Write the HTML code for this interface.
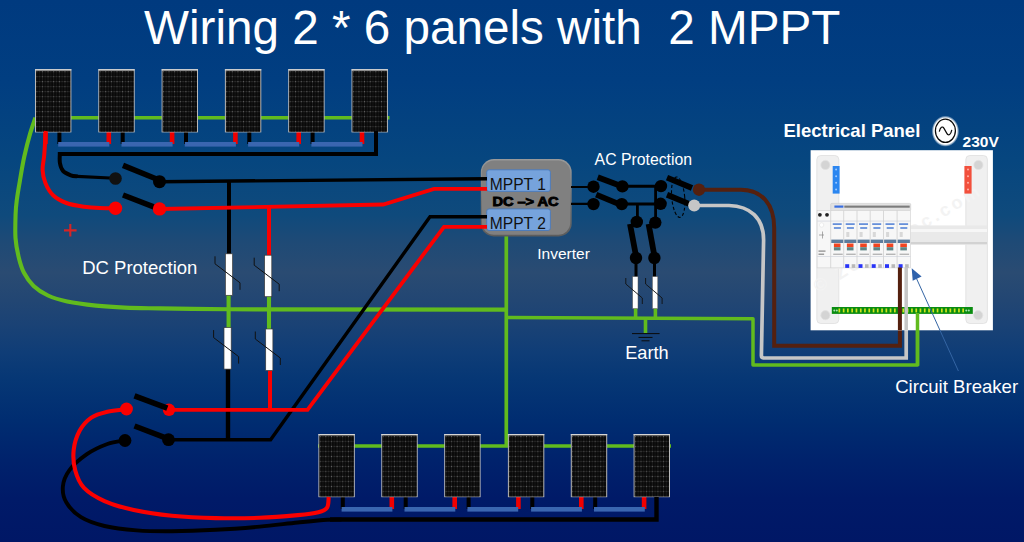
<!DOCTYPE html>
<html><head><meta charset="utf-8"><title>Wiring 2 * 6 panels with 2 MPPT</title>
<style>html,body{margin:0;padding:0;background:#002a76;overflow:hidden}svg{display:block}text{font-family:"Liberation Sans",sans-serif}</style>
</head><body>
<svg width="1024" height="542" viewBox="0 0 1024 542">
<defs>
<linearGradient id="bg" x1="0" y1="0" x2="0" y2="1">
<stop offset="0" stop-color="#003a7f"/>
<stop offset="0.15" stop-color="#013e81"/>
<stop offset="0.295" stop-color="#06467f"/>
<stop offset="0.397" stop-color="#0f4a7c"/>
<stop offset="0.445" stop-color="#1e4a76"/>
<stop offset="0.503" stop-color="#2a4b72"/>
<stop offset="0.555" stop-color="#224673"/>
<stop offset="0.60" stop-color="#1a4275"/>
<stop offset="0.65" stop-color="#0f3d77"/>
<stop offset="0.70" stop-color="#063775"/>
<stop offset="0.775" stop-color="#002d71"/>
<stop offset="0.85" stop-color="#00226c"/>
<stop offset="0.92" stop-color="#001a68"/>
<stop offset="1" stop-color="#001766"/>
</linearGradient>
<pattern id="cells" x="1.3" y="1.9" width="5.64" height="10" patternUnits="userSpaceOnUse">
<rect width="5.64" height="10" fill="#090909"/>
<path d="M0 0.6H5.64M0 5.6H5.64" stroke="#242424" stroke-width="0.7"/>
<path d="M0.4 0V10" stroke="#2c2c2c" stroke-width="0.6"/><path d="M3.22 0V10" stroke="#1b1b1b" stroke-width="0.6"/>
<rect x="0" y="0.2" width="0.9" height="0.9" fill="#7c7c7c"/><rect x="0" y="5.2" width="0.9" height="0.9" fill="#5e5e5e"/>
<rect x="2.9" y="0.25" width="0.7" height="0.7" fill="#4a4a4a"/><rect x="2.9" y="5.25" width="0.7" height="0.7" fill="#404040"/>
</pattern>
</defs>
<rect width="1024" height="542" fill="url(#bg)"/>
<g fill="none" stroke="#61bb1e" stroke-width="4.1" stroke-linejoin="round">
<path d="M389.5 117.8H35.4" stroke-width="3.5"/>
<path d="M35.4 117.7C34.5 120.5 31.8 127.8 29.9 134.3C28.0 140.8 26.0 148.8 24.3 156.5C22.6 164.2 21.1 173.6 19.9 180.8C18.6 188.1 17.5 194.5 16.8 200.0C16.1 205.5 15.8 207.7 15.6 214.0C15.4 220.3 15.0 230.8 15.5 238.0C16.0 245.2 17.3 251.4 18.7 257.2C20.1 263.0 21.5 268.0 24.0 272.8C26.5 277.6 29.6 282.2 33.6 286.0C37.6 289.8 42.4 292.9 48.0 295.5C53.6 298.1 59.2 299.8 67.2 301.5C75.2 303.2 86.4 304.6 96.0 305.6C105.6 306.6 114.0 307.1 124.7 307.6C135.4 308.1 142.6 308.1 160.0 308.4C177.4 308.7 217.5 309.1 229.0 309.3L506 309.6"/>
<path d="M506.3 236V446" stroke-width="3.7"/>
<path d="M318 446H671" stroke-width="3.5"/>
<path d="M506 317.6L753 318.8V365H917.5V313" stroke-width="3.5"/>
<path d="M645.5 318V333" stroke-width="3.6"/>
</g>
<g fill="none" stroke="#61bb1e" stroke-width="4.1">
<path d="M228.6 295V328M269 296V330"/>
<path d="M635.6 308V318M655.4 308V318" stroke-width="3.6"/>
</g>
<defs><linearGradient id="inv" x1="0" y1="0" x2="0" y2="1"><stop offset="0" stop-color="#9a9a9a"/><stop offset="0.5" stop-color="#777"/><stop offset="1" stop-color="#5c5c5c"/></linearGradient></defs>
<rect x="480.8" y="159.1" width="90.9" height="77.3" rx="13" ry="13" fill="url(#inv)"/>
<rect x="482" y="160.6" width="88.2" height="74.2" rx="12" ry="12" fill="#808080"/>
<rect x="486.7" y="169.8" width="63.7" height="21.6" rx="2.4" fill="#76a3dc" stroke="#4a79ba" stroke-width="0.9"/>
<rect x="486.7" y="208.9" width="63.7" height="21.6" rx="2.4" fill="#76a3dc" stroke="#4a79ba" stroke-width="0.9"/>
<text x="489.8" y="189.7" font-family="Liberation Sans, sans-serif" font-size="15.6" fill="#111">MPPT 1</text>
<text x="489.8" y="228.9" font-family="Liberation Sans, sans-serif" font-size="15.6" fill="#111">MPPT 2</text>
<text x="492.4" y="206" font-family="Liberation Sans, sans-serif" font-size="12.4" font-weight="bold" fill="#000" stroke="#000" stroke-width="0.85" textLength="66.2" lengthAdjust="spacingAndGlyphs">DC –&gt; AC</text>
<g>
<rect x="43.2" y="131" width="4.6" height="13" fill="#f00000"/>
<rect x="57.4" y="131" width="4" height="13" fill="#000"/>
<rect x="106.5" y="131" width="4.6" height="13" fill="#f00000"/>
<rect x="120.7" y="131" width="4" height="13" fill="#000"/>
<rect x="169.8" y="131" width="4.6" height="13" fill="#f00000"/>
<rect x="184.0" y="131" width="4" height="13" fill="#000"/>
<rect x="233.1" y="131" width="4.6" height="13" fill="#f00000"/>
<rect x="247.3" y="131" width="4" height="13" fill="#000"/>
<rect x="296.4" y="131" width="4.6" height="13" fill="#f00000"/>
<rect x="310.6" y="131" width="4" height="13" fill="#000"/>
<rect x="359.7" y="131" width="4.6" height="13" fill="#f00000"/>
<rect x="58.2" y="142" width="51.1" height="4.6" fill="#3a66b0"/>
<rect x="121.5" y="142" width="51.1" height="4.6" fill="#3a66b0"/>
<rect x="184.8" y="142" width="51.1" height="4.6" fill="#3a66b0"/>
<rect x="248.1" y="142" width="51.1" height="4.6" fill="#3a66b0"/>
<rect x="311.4" y="142" width="51.1" height="4.6" fill="#3a66b0"/>
<g transform="translate(35 69.2)"><rect x="0" y="0" width="36.4" height="63.2" fill="#b9b9b9"/><rect x="0" y="0" width="36.4" height="1.2" fill="#d6d6d6"/><rect x="1" y="1.5" width="34.4" height="61" fill="#090909"/><rect x="1.3" y="1.9" width="33.8" height="60.4" fill="url(#cells)"/></g>
<g transform="translate(98.3 69.2)"><rect x="0" y="0" width="36.4" height="63.2" fill="#b9b9b9"/><rect x="0" y="0" width="36.4" height="1.2" fill="#d6d6d6"/><rect x="1" y="1.5" width="34.4" height="61" fill="#090909"/><rect x="1.3" y="1.9" width="33.8" height="60.4" fill="url(#cells)"/></g>
<g transform="translate(161.6 69.2)"><rect x="0" y="0" width="36.4" height="63.2" fill="#b9b9b9"/><rect x="0" y="0" width="36.4" height="1.2" fill="#d6d6d6"/><rect x="1" y="1.5" width="34.4" height="61" fill="#090909"/><rect x="1.3" y="1.9" width="33.8" height="60.4" fill="url(#cells)"/></g>
<g transform="translate(224.9 69.2)"><rect x="0" y="0" width="36.4" height="63.2" fill="#b9b9b9"/><rect x="0" y="0" width="36.4" height="1.2" fill="#d6d6d6"/><rect x="1" y="1.5" width="34.4" height="61" fill="#090909"/><rect x="1.3" y="1.9" width="33.8" height="60.4" fill="url(#cells)"/></g>
<g transform="translate(288.2 69.2)"><rect x="0" y="0" width="36.4" height="63.2" fill="#b9b9b9"/><rect x="0" y="0" width="36.4" height="1.2" fill="#d6d6d6"/><rect x="1" y="1.5" width="34.4" height="61" fill="#090909"/><rect x="1.3" y="1.9" width="33.8" height="60.4" fill="url(#cells)"/></g>
<g transform="translate(351.5 69.2)"><rect x="0" y="0" width="36.4" height="63.2" fill="#b9b9b9"/><rect x="0" y="0" width="36.4" height="1.2" fill="#d6d6d6"/><rect x="1" y="1.5" width="34.4" height="61" fill="#090909"/><rect x="1.3" y="1.9" width="33.8" height="60.4" fill="url(#cells)"/></g>
</g>
<g>
<rect x="340.8" y="496" width="4" height="13" fill="#000"/>
<rect x="389.5" y="496" width="4.6" height="13" fill="#f00000"/>
<rect x="403.7" y="496" width="4" height="13" fill="#000"/>
<rect x="452.4" y="496" width="4.6" height="13" fill="#f00000"/>
<rect x="466.6" y="496" width="4" height="13" fill="#000"/>
<rect x="516.1" y="496" width="4.6" height="13" fill="#f00000"/>
<rect x="530.3" y="496" width="4" height="13" fill="#000"/>
<rect x="579.0" y="496" width="4.6" height="13" fill="#f00000"/>
<rect x="593.2" y="496" width="4" height="13" fill="#000"/>
<rect x="641.8" y="496" width="4.6" height="13" fill="#f00000"/>
<rect x="341.6" y="507" width="50.8" height="4.6" fill="#3a66b0"/>
<rect x="404.5" y="507" width="50.8" height="4.6" fill="#3a66b0"/>
<rect x="467.4" y="507" width="50.8" height="4.6" fill="#3a66b0"/>
<rect x="531.1" y="507" width="50.8" height="4.6" fill="#3a66b0"/>
<rect x="594.0" y="507" width="50.8" height="4.6" fill="#3a66b0"/>
<g transform="translate(318.4 434)"><rect x="0" y="0" width="36.4" height="63.2" fill="#b9b9b9"/><rect x="0" y="0" width="36.4" height="1.2" fill="#d6d6d6"/><rect x="1" y="1.5" width="34.4" height="61" fill="#090909"/><rect x="1.3" y="1.9" width="33.8" height="60.4" fill="url(#cells)"/></g>
<g transform="translate(381.3 434)"><rect x="0" y="0" width="36.4" height="63.2" fill="#b9b9b9"/><rect x="0" y="0" width="36.4" height="1.2" fill="#d6d6d6"/><rect x="1" y="1.5" width="34.4" height="61" fill="#090909"/><rect x="1.3" y="1.9" width="33.8" height="60.4" fill="url(#cells)"/></g>
<g transform="translate(444.2 434)"><rect x="0" y="0" width="36.4" height="63.2" fill="#b9b9b9"/><rect x="0" y="0" width="36.4" height="1.2" fill="#d6d6d6"/><rect x="1" y="1.5" width="34.4" height="61" fill="#090909"/><rect x="1.3" y="1.9" width="33.8" height="60.4" fill="url(#cells)"/></g>
<g transform="translate(507.9 434)"><rect x="0" y="0" width="36.4" height="63.2" fill="#b9b9b9"/><rect x="0" y="0" width="36.4" height="1.2" fill="#d6d6d6"/><rect x="1" y="1.5" width="34.4" height="61" fill="#090909"/><rect x="1.3" y="1.9" width="33.8" height="60.4" fill="url(#cells)"/></g>
<g transform="translate(570.8 434)"><rect x="0" y="0" width="36.4" height="63.2" fill="#b9b9b9"/><rect x="0" y="0" width="36.4" height="1.2" fill="#d6d6d6"/><rect x="1" y="1.5" width="34.4" height="61" fill="#090909"/><rect x="1.3" y="1.9" width="33.8" height="60.4" fill="url(#cells)"/></g>
<g transform="translate(633.6 434)"><rect x="0" y="0" width="36.4" height="63.2" fill="#b9b9b9"/><rect x="0" y="0" width="36.4" height="1.2" fill="#d6d6d6"/><rect x="1" y="1.5" width="34.4" height="61" fill="#090909"/><rect x="1.3" y="1.9" width="33.8" height="60.4" fill="url(#cells)"/></g>
</g>
<g fill="none" stroke="#000" stroke-linejoin="miter">
<path d="M376 131V154H59.8C59.8 155.5 59.4 160.2 59.9 163.0C60.4 165.8 61.2 168.8 63.0 170.9C64.8 173.0 68.4 174.4 70.8 175.3C73.2 176.2 76.4 176.2 77.5 176.4" stroke-width="4"/>
<path d="M77 176.4L115 178.3" stroke-width="3.1"/>
<path d="M159.5 181.7L487 178.7" stroke-width="3.4"/>
<path d="M229 181V254" stroke-width="4"/>
<path d="M228 369V441" stroke-width="4.4"/>
<path d="M168 439.7H270.6L430 216.7H487" stroke-width="3.4"/>
<path d="M125.0 440.4C122.1 441.0 113.8 441.7 107.4 444.0C101.1 446.3 93.2 449.8 86.9 454.2C80.6 458.6 73.3 464.9 69.3 470.3C65.3 475.7 63.4 481.0 62.9 486.4C62.4 491.8 63.4 497.4 66.4 502.5C69.4 507.6 74.7 513.3 81.0 517.2C87.3 521.1 95.2 523.8 104.5 526.0C113.8 528.2 125.5 529.5 136.7 530.4C147.9 531.3 158.6 531.4 171.8 531.3C185.0 531.2 201.1 530.6 215.8 529.8C230.5 529.0 246.1 527.8 259.8 526.6C273.5 525.4 286.6 523.6 297.8 522.5C309.0 521.4 319.7 520.3 327.1 519.8C334.5 519.3 339.5 519.5 342.0 519.5" stroke-width="3.9"/>
<path d="M656.5 497V519.5H341.5" stroke-width="4.4"/>
<path d="M341.5 519.5L330 519.5" stroke-width="4.4"/>
</g>
<g fill="none" stroke="#fa0000" stroke-linejoin="miter">
<path d="M45.8 131.0C45.5 134.9 44.8 147.8 44.3 154.3C43.8 160.8 42.4 165.0 42.6 169.8C42.8 174.6 43.6 178.8 45.4 183.0C47.1 187.2 49.6 191.9 53.1 195.2C56.6 198.5 61.2 201.1 66.4 203.0C71.6 204.9 78.6 205.9 84.1 206.7C89.6 207.5 94.4 207.8 99.6 208.0C104.8 208.2 112.4 208.2 115.0 208.2" stroke-width="4"/>
<path d="M159.5 209L383.2 204.5L434 188.9H487" stroke-width="3.8"/>
<path d="M269 208V256" stroke-width="4"/>
<path d="M270 370V410" stroke-width="4"/>
<path d="M169 409.8H307.5L444 226.8H487" stroke-width="3.8"/>
<path d="M125.8 409.4C122.7 409.8 113.2 410.3 107.4 411.7C101.7 413.1 95.9 414.4 91.3 417.6C86.7 420.8 82.5 425.4 79.6 430.8C76.7 436.2 74.4 443.2 73.7 449.8C73.0 456.4 73.5 464.0 75.2 470.3C76.9 476.6 79.1 482.8 84.0 487.9C88.9 493.0 96.2 497.4 104.5 501.1C112.8 504.8 122.6 507.5 133.8 509.9C145.0 512.3 158.1 514.3 171.8 515.7C185.5 517.1 201.1 517.8 215.8 518.1C230.5 518.5 246.1 518.3 259.8 517.8C273.5 517.3 288.1 516.0 297.8 515.1C307.6 514.2 313.4 513.5 318.3 512.2C323.2 511.0 325.4 510.1 327.1 507.6C328.8 505.1 328.4 498.8 328.7 497.0" stroke-width="4.1"/>
</g>
<g stroke="#000" stroke-width="5.6" stroke-linecap="butt">
<path d="M123 165.4L159 180"/>
<path d="M123 195L155 207.3"/>
<path d="M134.5 426L165 437.6"/>
</g>
<circle cx="115.5" cy="178.5" r="6.3" fill="#111"/><circle cx="159.5" cy="181.7" r="6.5" fill="#000"/>
<circle cx="115.5" cy="208.2" r="6.7" fill="#fa0000"/><circle cx="159.5" cy="208.9" r="6.7" fill="#fa0000"/>
<circle cx="126.5" cy="409" r="6.4" fill="#fa0000"/><circle cx="169" cy="409.8" r="6.2" fill="#fa0000"/>
<circle cx="125" cy="440.5" r="6.4" fill="#000"/><circle cx="168.5" cy="439.7" r="6.4" fill="#000"/>
<path d="M134.5 395.8L167.3 408.2" stroke="#000" stroke-width="5.6"/>
<g transform="translate(229 253.8)"><rect x="-3.6" y="0" width="7.2" height="41.5" fill="#ffffff" stroke="#3a3a3a" stroke-width="0.7"/><path d="M-14 2.5V10L11 29V36" fill="none" stroke="#111" stroke-width="1"/></g>
<g transform="translate(268.2 255.2)"><rect x="-3.6" y="0" width="7.2" height="41.5" fill="#ffffff" stroke="#3a3a3a" stroke-width="0.7"/><path d="M-14 2.5V10L11 29V36" fill="none" stroke="#111" stroke-width="1"/></g>
<g transform="translate(227.6 327.6)"><rect x="-3.6" y="0" width="7.2" height="41.5" fill="#ffffff" stroke="#3a3a3a" stroke-width="0.7"/><path d="M-14 2.5V10L11 29V36" fill="none" stroke="#111" stroke-width="1"/></g>
<g transform="translate(269.3 329)"><rect x="-3.6" y="0" width="7.2" height="41.5" fill="#ffffff" stroke="#3a3a3a" stroke-width="0.7"/><path d="M-14 2.5V10L11 29V36" fill="none" stroke="#111" stroke-width="1"/></g>
<g fill="none" stroke="#000">
<path d="M571 187H593.5M571 203.9H593.5" stroke-width="2.2"/>
<path d="M622.4 186.3H660.7M621.5 204H660.7" stroke-width="3"/>
<path d="M655.6 186V222M637.4 204V221" stroke-width="2.8"/>
<path d="M636 258V277M654.5 258V277" stroke-width="3"/>
<g stroke-width="5.8"><path d="M597.7 177.2L621 186"/><path d="M596.2 194.6L618.5 203.9"/><path d="M667 177.6L692 188"/><path d="M667 194.8L689 203.9"/>
<path d="M630 224L636 256"/><path d="M648.6 224L654.4 256"/></g>
<ellipse cx="678.2" cy="197.2" rx="6.5" ry="20.3" stroke-width="1.1" stroke-dasharray="3.2 2.2" transform="rotate(-5 678.2 197.2)"/>
</g>
<circle cx="593.5" cy="186.7" r="6.2" fill="#000"/>
<circle cx="622.4" cy="186.4" r="6.2" fill="#000"/>
<circle cx="661" cy="186.1" r="6.2" fill="#000"/>
<circle cx="593.5" cy="204.1" r="6.2" fill="#000"/>
<circle cx="621.8" cy="204.1" r="6.2" fill="#000"/>
<circle cx="660.6" cy="203.8" r="6.2" fill="#000"/>
<circle cx="636.8" cy="221.9" r="6.2" fill="#000"/>
<circle cx="655.3" cy="222.6" r="6.2" fill="#000"/>
<circle cx="636" cy="258" r="6.2" fill="#000"/>
<circle cx="654.4" cy="258" r="6.2" fill="#000"/>
<rect x="632.5999999999999" y="276.6" width="5.4" height="32" fill="#fff" stroke="#555" stroke-width="0.5"/>
<path d="M625.8 278V284L642.3 298V304" fill="none" stroke="#111" stroke-width="0.9"/>
<rect x="652.4" y="276.6" width="5.4" height="32" fill="#fff" stroke="#555" stroke-width="0.5"/>
<path d="M645.6 278V284L662.1 298V304" fill="none" stroke="#111" stroke-width="0.9"/>
<path d="M632 333.6H659.6M638.5 337.4H652.5M641.5 340.8H649.5" stroke="#0a0a0a" stroke-width="1" fill="none"/>
<path d="M699 189.7H741C762 190 774.2 204 774.2 228V345.8H899.9V267.5" fill="none" stroke="#54200f" stroke-width="4"/>
<path d="M694 205.5H729C750 206 763.6 218 763.6 240L761.4 355.5Q761.4 358 764 358H906.2V267.5" fill="none" stroke="#c6c6c6" stroke-width="3.7"/>
<circle cx="699" cy="189.7" r="6.2" fill="#54200f"/><circle cx="694.2" cy="205.4" r="6" fill="#c6c6c6"/>
<g>
<rect x="810.6" y="150.2" width="182.3" height="180.1" fill="#ffffff"/>
<rect x="816.8" y="155.5" width="22" height="168" rx="4" fill="#f0f0f0" stroke="#dedede" stroke-width="0.8"/>
<rect x="965.8" y="155.5" width="21.6" height="168" rx="4" fill="#f0f0f0" stroke="#dedede" stroke-width="0.8"/>
<text transform="translate(818,293) rotate(-31)" font-family="Liberation Sans, sans-serif" font-weight="bold" font-size="18" fill="#f3f3f3" textLength="190" lengthAdjust="spacing">© ZoomElec.com</text>
<rect x="910" y="225.4" width="77" height="19.4" fill="#e9e9e9"/>
<rect x="910" y="229" width="77" height="3" fill="#f6f6f6"/><rect x="910" y="242" width="77" height="2.2" fill="#d2d2d2"/>
<circle cx="825.4" cy="165" r="4.6" fill="#d4d4d4" stroke="#e2e2e2" stroke-width="0.8"/>
<circle cx="978.4" cy="165" r="4.6" fill="#d4d4d4" stroke="#e2e2e2" stroke-width="0.8"/>
<circle cx="825.4" cy="315.2" r="4.6" fill="#d4d4d4" stroke="#e2e2e2" stroke-width="0.8"/>
<circle cx="978.2" cy="315.2" r="4.6" fill="#d4d4d4" stroke="#e2e2e2" stroke-width="0.8"/>
<rect x="832.7" y="166" width="6.9" height="27.6" fill="#2b86f0"/>
<rect x="964.4" y="166" width="7.2" height="27.6" fill="#f2503c"/>
<circle cx="836.1" cy="169.6" r="1" fill="#9cc8ff"/><circle cx="968" cy="169.6" r="1" fill="#ffb0a4"/>
<circle cx="836.1" cy="176.2" r="1" fill="#9cc8ff"/><circle cx="968" cy="176.2" r="1" fill="#ffb0a4"/>
<circle cx="836.1" cy="182.8" r="1" fill="#9cc8ff"/><circle cx="968" cy="182.8" r="1" fill="#ffb0a4"/>
<circle cx="836.1" cy="189.4" r="1" fill="#9cc8ff"/><circle cx="968" cy="189.4" r="1" fill="#ffb0a4"/>
<rect x="830.7" y="203.4" width="80" height="7.2" rx="1" fill="#e2e2e2" stroke="#c4c4c4" stroke-width="0.5"/>
<rect x="844.3" y="205.6" width="65.4" height="2.1" fill="#7c7c7c"/><rect x="834.4" y="205.5" width="9" height="2.2" fill="#3a6ee0"/>
<rect x="817.1" y="210.5" width="93.6" height="57.4" fill="#f7f7f7" stroke="#d0d0d0" stroke-width="0.6"/>
<path d="M817.1 221.1H910.7M817.1 256.5H910.7" stroke="#d4d8e0" stroke-width="0.8"/>
<path d="M830.7 210.5V267.9" stroke="#cfcfcf" stroke-width="0.8"/>
<rect x="832.7" y="223.3" width="9" height="1.6" fill="#3a70d0" opacity="0.85"/><rect x="833.9000000000001" y="227.2" width="7" height="1.6" fill="#3a70d0" opacity="0.85"/>
<rect x="831.3000000000001" y="239.6" width="12.2" height="3.4" fill="#5c7c9c"/>
<rect x="833.9000000000001" y="243.5" width="6.6" height="3.6" fill="#f04420"/>
<rect x="833.9000000000001" y="247.2" width="6.6" height="3.2" fill="#5e8484"/>
<rect x="833.2" y="253.6" width="9.5" height="1.4" fill="#9a9a9a" opacity="0.7"/>
<path d="M843.7 210.5V267.9" stroke="#cfcfcf" stroke-width="0.8"/>
<rect x="845.7" y="223.3" width="9" height="1.6" fill="#3a70d0" opacity="0.85"/><rect x="846.9000000000001" y="227.2" width="7" height="1.6" fill="#3a70d0" opacity="0.85"/>
<rect x="844.3000000000001" y="239.6" width="12.2" height="3.4" fill="#5c7c9c"/>
<rect x="846.9000000000001" y="243.5" width="6.6" height="3.6" fill="#f04420"/>
<rect x="846.9000000000001" y="247.2" width="6.6" height="3.2" fill="#5e8484"/>
<rect x="846.2" y="253.6" width="9.5" height="1.4" fill="#9a9a9a" opacity="0.7"/>
<rect x="845.2" y="264.2" width="4" height="3.7" fill="#2834f8"/><rect x="851.7" y="264.2" width="3.6" height="3.7" fill="#b8b8b8"/>
<rect x="846.3000000000001" y="232" width="3" height="5" fill="#cfcfcf" opacity="0.8"/>
<path d="M857 210.5V267.9" stroke="#cfcfcf" stroke-width="0.8"/>
<rect x="859" y="223.3" width="9" height="1.6" fill="#3a70d0" opacity="0.85"/><rect x="860.2" y="227.2" width="7" height="1.6" fill="#3a70d0" opacity="0.85"/>
<rect x="857.6" y="239.6" width="12.2" height="3.4" fill="#5c7c9c"/>
<rect x="860.2" y="243.5" width="6.6" height="3.6" fill="#f04420"/>
<rect x="860.2" y="247.2" width="6.6" height="3.2" fill="#5e8484"/>
<rect x="859.5" y="253.6" width="9.5" height="1.4" fill="#9a9a9a" opacity="0.7"/>
<rect x="858.5" y="264.2" width="4" height="3.7" fill="#2834f8"/><rect x="865" y="264.2" width="3.6" height="3.7" fill="#b8b8b8"/>
<rect x="859.6" y="232" width="3" height="5" fill="#cfcfcf" opacity="0.8"/>
<path d="M870.2 210.5V267.9" stroke="#cfcfcf" stroke-width="0.8"/>
<rect x="872.2" y="223.3" width="9" height="1.6" fill="#3a70d0" opacity="0.85"/><rect x="873.4000000000001" y="227.2" width="7" height="1.6" fill="#3a70d0" opacity="0.85"/>
<rect x="870.8000000000001" y="239.6" width="12.2" height="3.4" fill="#5c7c9c"/>
<rect x="873.4000000000001" y="243.5" width="6.6" height="3.6" fill="#f04420"/>
<rect x="873.4000000000001" y="247.2" width="6.6" height="3.2" fill="#5e8484"/>
<rect x="872.7" y="253.6" width="9.5" height="1.4" fill="#9a9a9a" opacity="0.7"/>
<rect x="871.7" y="264.2" width="4" height="3.7" fill="#2834f8"/><rect x="878.2" y="264.2" width="3.6" height="3.7" fill="#b8b8b8"/>
<rect x="872.8000000000001" y="232" width="3" height="5" fill="#cfcfcf" opacity="0.8"/>
<path d="M883.5 210.5V267.9" stroke="#cfcfcf" stroke-width="0.8"/>
<rect x="885.5" y="223.3" width="9" height="1.6" fill="#3a70d0" opacity="0.85"/><rect x="886.7" y="227.2" width="7" height="1.6" fill="#3a70d0" opacity="0.85"/>
<rect x="884.1" y="239.6" width="12.2" height="3.4" fill="#5c7c9c"/>
<rect x="886.7" y="243.5" width="6.6" height="3.6" fill="#f04420"/>
<rect x="886.7" y="247.2" width="6.6" height="3.2" fill="#5e8484"/>
<rect x="886.0" y="253.6" width="9.5" height="1.4" fill="#9a9a9a" opacity="0.7"/>
<rect x="885.0" y="264.2" width="4" height="3.7" fill="#2834f8"/><rect x="891.5" y="264.2" width="3.6" height="3.7" fill="#b8b8b8"/>
<rect x="886.1" y="232" width="3" height="5" fill="#cfcfcf" opacity="0.8"/>
<path d="M897.1 210.5V267.9" stroke="#cfcfcf" stroke-width="0.8"/>
<rect x="899.1" y="223.3" width="9" height="1.6" fill="#3a70d0" opacity="0.85"/><rect x="900.3000000000001" y="227.2" width="7" height="1.6" fill="#3a70d0" opacity="0.85"/>
<rect x="897.7" y="239.6" width="12.2" height="3.4" fill="#5c7c9c"/>
<rect x="900.3000000000001" y="243.5" width="6.6" height="3.6" fill="#f04420"/>
<rect x="900.3000000000001" y="247.2" width="6.6" height="3.2" fill="#5e8484"/>
<rect x="899.6" y="253.6" width="9.5" height="1.4" fill="#9a9a9a" opacity="0.7"/>
<rect x="898.6" y="264.2" width="4" height="3.7" fill="#2834f8"/><rect x="905.1" y="264.2" width="3.6" height="3.7" fill="#b8b8b8"/>
<rect x="899.7" y="232" width="3" height="5" fill="#cfcfcf" opacity="0.8"/>
<circle cx="819.9" cy="214.8" r="1.9" fill="#222"/><circle cx="827" cy="214.8" r="1.9" fill="#222"/>
<circle cx="821.6" cy="225" r="2.2" fill="#fff" stroke="#ddd" stroke-width="0.5"/>
<path d="M819 235H824M822.5 231.5V238.5" stroke="#888" stroke-width="0.7" fill="none"/>
<rect x="818.5" y="250.5" width="7" height="1.2" fill="#888"/><rect x="818.5" y="253.6" width="5.6" height="1.2" fill="#888"/>
<rect x="831.8" y="307" width="141" height="6.9" fill="#0a8c10"/>
<rect x="838.5" y="308.5" width="1.7" height="3.9" fill="#d2e41c"/>
<rect x="842.8" y="308.5" width="1.7" height="3.9" fill="#d2e41c"/>
<rect x="847.0" y="308.5" width="1.7" height="3.9" fill="#d2e41c"/>
<rect x="851.3" y="308.5" width="1.7" height="3.9" fill="#d2e41c"/>
<rect x="855.6" y="308.5" width="1.7" height="3.9" fill="#d2e41c"/>
<rect x="859.9" y="308.5" width="1.7" height="3.9" fill="#d2e41c"/>
<rect x="864.1" y="308.5" width="1.7" height="3.9" fill="#d2e41c"/>
<rect x="868.4" y="308.5" width="1.7" height="3.9" fill="#d2e41c"/>
<rect x="872.7" y="308.5" width="1.7" height="3.9" fill="#d2e41c"/>
<rect x="876.9" y="308.5" width="1.7" height="3.9" fill="#d2e41c"/>
<rect x="881.2" y="308.5" width="1.7" height="3.9" fill="#d2e41c"/>
<rect x="885.5" y="308.5" width="1.7" height="3.9" fill="#d2e41c"/>
<rect x="889.7" y="308.5" width="1.7" height="3.9" fill="#d2e41c"/>
<rect x="894.0" y="308.5" width="1.7" height="3.9" fill="#d2e41c"/>
<rect x="898.3" y="308.5" width="1.7" height="3.9" fill="#d2e41c"/>
<rect x="902.5" y="308.5" width="1.7" height="3.9" fill="#d2e41c"/>
<rect x="906.8" y="308.5" width="1.7" height="3.9" fill="#d2e41c"/>
<rect x="911.1" y="308.5" width="1.7" height="3.9" fill="#d2e41c"/>
<rect x="915.4" y="308.5" width="1.7" height="3.9" fill="#d2e41c"/>
<rect x="919.6" y="308.5" width="1.7" height="3.9" fill="#d2e41c"/>
<rect x="923.9" y="308.5" width="1.7" height="3.9" fill="#d2e41c"/>
<rect x="928.2" y="308.5" width="1.7" height="3.9" fill="#d2e41c"/>
<rect x="932.4" y="308.5" width="1.7" height="3.9" fill="#d2e41c"/>
<rect x="936.7" y="308.5" width="1.7" height="3.9" fill="#d2e41c"/>
<rect x="941.0" y="308.5" width="1.7" height="3.9" fill="#d2e41c"/>
<rect x="945.2" y="308.5" width="1.7" height="3.9" fill="#d2e41c"/>
<rect x="949.5" y="308.5" width="1.7" height="3.9" fill="#d2e41c"/>
<rect x="953.8" y="308.5" width="1.7" height="3.9" fill="#d2e41c"/>
<rect x="958.1" y="308.5" width="1.7" height="3.9" fill="#d2e41c"/>
<rect x="962.3" y="308.5" width="1.7" height="3.9" fill="#d2e41c"/>
<circle cx="834.3" cy="310.4" r="1" fill="#a8e0b0"/>
<circle cx="836.8" cy="310.4" r="1" fill="#a8e0b0"/>
<circle cx="966.3" cy="310.4" r="1" fill="#a8e0b0"/>
<circle cx="968.8" cy="310.4" r="1" fill="#a8e0b0"/>
</g>
<path d="M899.9 267.5V330" stroke="#54200f" stroke-width="4" fill="none"/>
<path d="M906.2 267.5V330" stroke="#c6c6c6" stroke-width="3.5" fill="none"/>
<path d="M899.9 267.5V347.8M906.2 267.5V360" fill="none" stroke="none"/>
<path d="M917.5 313V366" stroke="#61bb1e" stroke-width="3.5" fill="none"/>
<path d="M958.4 371L916.5 278.5" stroke="#3465a4" stroke-width="1" fill="none"/>
<path d="M911.7 268.3L921.6 276.6L912.7 280.7Z" fill="#2f62ac"/>
<defs><radialGradient id="glow"><stop offset="0.84" stop-color="#fff" stop-opacity="1"/><stop offset="1" stop-color="#fff" stop-opacity="0"/></radialGradient></defs>
<ellipse cx="945.4" cy="131.2" rx="13.8" ry="15.6" fill="url(#glow)"/>
<ellipse cx="945.4" cy="130.8" rx="10" ry="11.6" fill="#fff" stroke="#0a0a0a" stroke-width="1.25"/>
<path d="M939.3 131.6C940.2 127.2 942.4 125.6 944 128.4C945.2 130.6 945.8 131.6 947 133.6C948.6 136.2 950.8 134.6 951.8 129.8" fill="none" stroke="#0a0a0a" stroke-width="1.2"/>
<text x="144" y="44.2" font-family="Liberation Sans, sans-serif" font-size="47.65" font-weight="normal" fill="#fff" xml:space="preserve">Wiring 2 * 6 panels with&#160; 2 MPPT</text>
<text x="82.2" y="274.2" font-family="Liberation Sans, sans-serif" font-size="18.5" font-weight="normal" fill="#fff" >DC Protection</text>
<text x="594.6" y="164.6" font-family="Liberation Sans, sans-serif" font-size="15.8" font-weight="normal" fill="#fff" >AC Protection</text>
<text x="537.3" y="259.3" font-family="Liberation Sans, sans-serif" font-size="15.5" font-weight="normal" fill="#fff" >Inverter</text>
<text x="625.2" y="359.1" font-family="Liberation Sans, sans-serif" font-size="18.2" font-weight="normal" fill="#fff" >Earth</text>
<text x="783.5" y="137.1" font-family="Liberation Sans, sans-serif" font-size="18.5" font-weight="bold" fill="#fff" >Electrical Panel</text>
<text x="962.6" y="146.8" font-family="Liberation Sans, sans-serif" font-size="15.5" font-weight="bold" fill="#fff" >230V</text>
<text x="895.2" y="393.3" font-family="Liberation Sans, sans-serif" font-size="18.6" font-weight="normal" fill="#fff" >Circuit Breaker</text>
<path d="M64 230.4H76.6M70.3 224V236.6" stroke="#d62424" stroke-width="2.1" fill="none"/>
</svg>
</body></html>
